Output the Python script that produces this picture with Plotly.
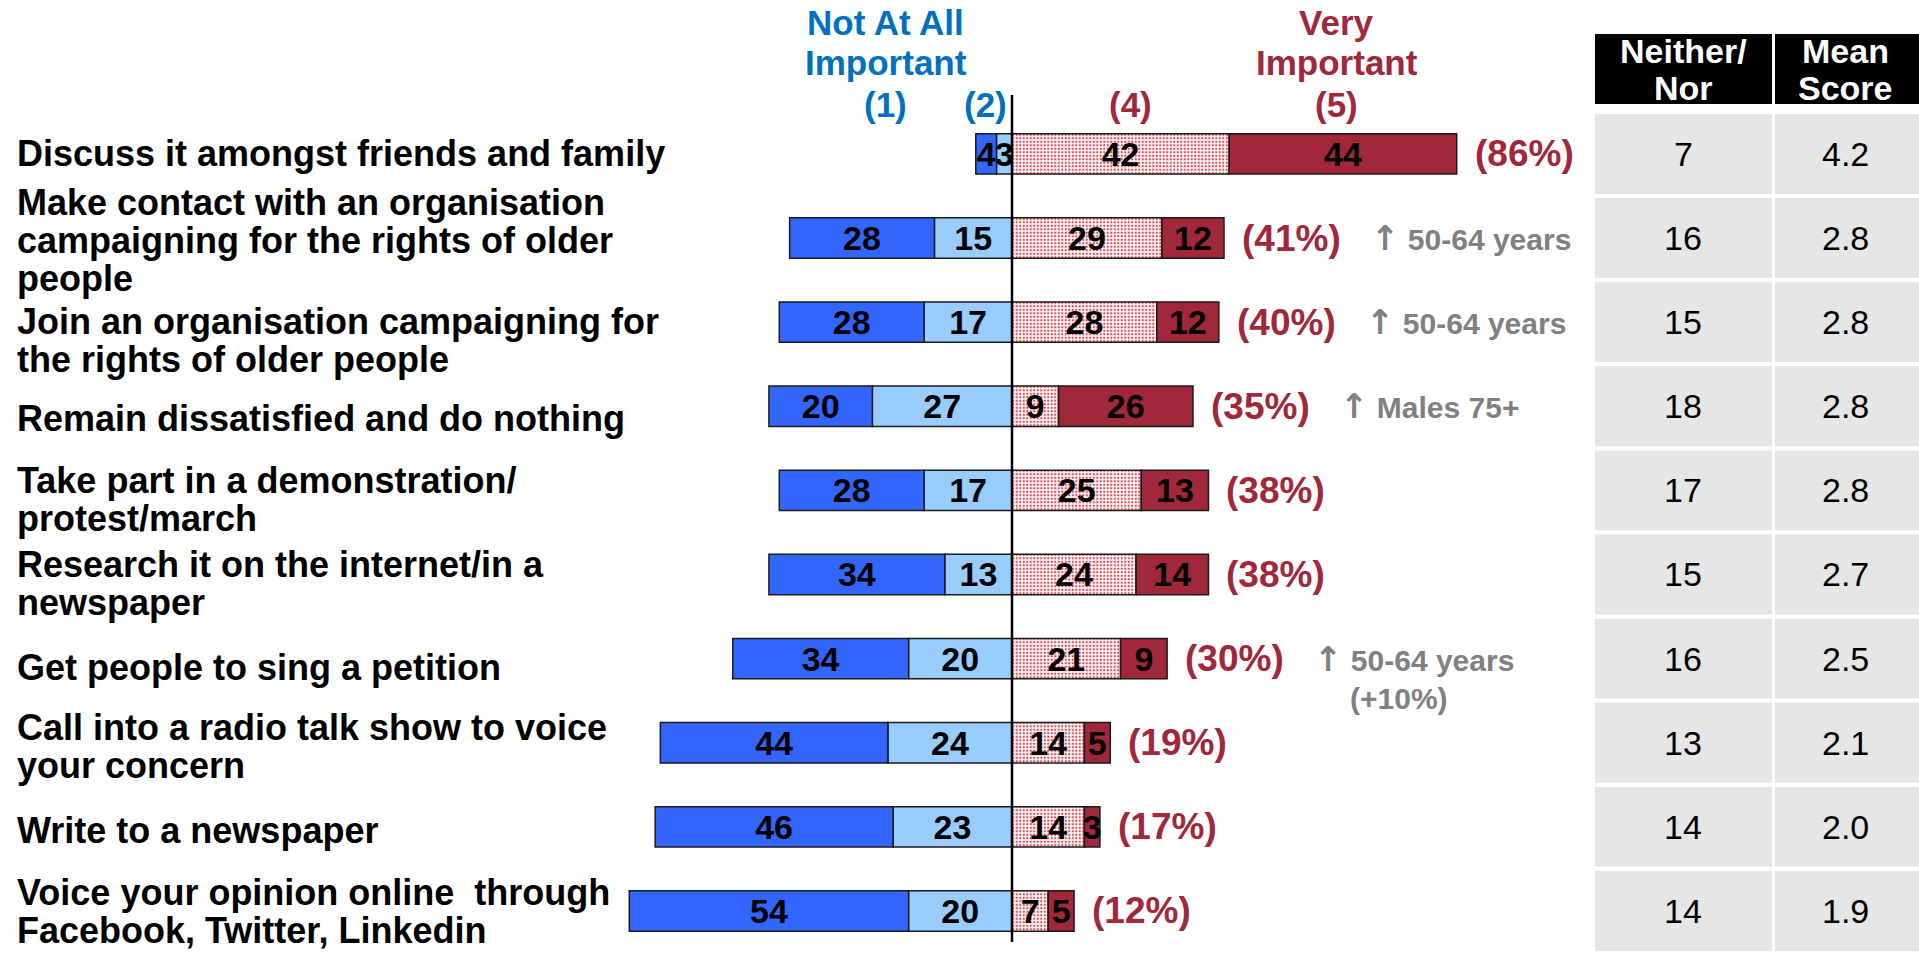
import plotly.graph_objects as go

# ---------------- data ----------------
categories = [
    "Discuss it amongst friends and family",
    "Make contact with an organisation<br>campaigning for the rights of older<br>people",
    "Join an organisation campaigning for<br>the rights of older people",
    "Remain dissatisfied and do nothing",
    "Take part in a demonstration/<br>protest/march",
    "Research it on the internet/in a<br>newspaper",
    "Get people to sing a petition",
    "Call into a radio talk show to voice<br>your concern",
    "Write to a newspaper",
    "Voice your opinion online  through<br>Facebook, Twitter, Linkedin",
]
not_at_all_1 = [4, 28, 28, 20, 28, 34, 34, 44, 46, 54]
not_imp_2 = [3, 15, 17, 27, 17, 13, 20, 24, 23, 20]
imp_4 = [42, 29, 28, 9, 25, 24, 21, 14, 14, 7]
very_5 = [44, 12, 12, 26, 13, 14, 9, 5, 3, 5]
neither_nor = [7, 16, 15, 18, 17, 15, 16, 13, 14, 14]
mean_score = ["4.2", "2.8", "2.8", "2.8", "2.8", "2.7", "2.5", "2.1", "2.0", "1.9"]
notes = ["", "↑ 50-64 years", "↑ 50-64 years", "↑ Males 75+", "", "",
         "↑ 50-64 years<br>(+10%)", "", "", ""]
table_headers = ["Neither/<br>Nor", "Mean<br>Score"]

# ---------------- style / layout constants ----------------
FONT = "Arial, 'Liberation Sans', sans-serif"
DARK_BLUE = "#3366FF"
LIGHT_BLUE = "#99CCFF"
DARK_RED = "#A0283A"
HEAD_BLUE = "#0070C0"
GREY = "#808080"
W, H = 1919, 953
X_RANGE = [-195.7, 175.4]
Y_RANGE = [9.5, -1.83]
ROW_PX = 84.1
LINE_SPACING = 38 / ROW_PX
label_shift_px = [0, 2, 18, 12, 9, 9, 9, 4, 4, 1]

ys = list(range(len(categories)))
BAR_W = 0.48
outline = dict(color="#1a1a1a", width=1.5)
txtfont = dict(family=FONT, size=34, color="black", weight="bold")


def bar(values, sign, marker, name):
    return go.Bar(y=ys, x=[sign * v for v in values], orientation="h", width=BAR_W,
                  marker=marker, text=[str(v) for v in values], textposition="inside",
                  insidetextanchor="middle", constraintext="none", textangle=0,
                  textfont=txtfont, hoverinfo="skip", name=name)


fig = go.Figure()
fig.add_trace(bar(not_imp_2, -1, dict(color=LIGHT_BLUE, line=outline), "(2)"))
fig.add_trace(bar(not_at_all_1, -1, dict(color=DARK_BLUE, line=outline), "(1)"))
fig.add_trace(bar(imp_4, 1, dict(color="#E06070", line=outline,
                                  pattern=dict(shape=".", bgcolor="#FDF0F0", fgcolor="#D24A5A",
                                               size=3.5, solidity=0.3, fillmode="replace")), "(4)"))
fig.add_trace(bar(very_5, 1, dict(color=DARK_RED, line=outline), "(5)"))

ann = []
# category labels (one annotation per line for tight spacing)
for i, lab in enumerate(categories):
    lines = lab.split("<br>")
    n = len(lines)
    for k, ln in enumerate(lines):
        yy = i + label_shift_px[i] / ROW_PX + (k - (n - 1) / 2) * LINE_SPACING
        ann.append(dict(x=15 / W, xref="paper", y=yy, yref="y", text=ln,
                        xanchor="left", yanchor="middle", showarrow=False,
                        font=dict(family=FONT, size=36, color="black", weight="bold")))

# net percentage labels and notes
for i in ys:
    net = imp_4[i] + very_5[i]
    ann.append(dict(x=net, y=i, xref="x", yref="y", text=f"({net}%)", xshift=16,
                    xanchor="left", yanchor="middle", showarrow=False,
                    font=dict(family=FONT, size=37, color=DARK_RED, weight="bold")))
    if notes[i]:
        lines = notes[i].split("<br>")
        for k, ln in enumerate(lines):
            txt = ln.replace("↑", "<span style='font-family:DejaVu Sans;font-size:34px'>↑</span>")
            ann.append(dict(x=net + 28, y=i + k * 40 / ROW_PX, xref="x", yref="y", text=txt,
                            xshift=0 if k == 0 else 36,
                            xanchor="left", yanchor="middle", showarrow=False,
                            font=dict(family=FONT, size=30, color=GREY, weight="bold")))


# column headers above bars
def head(x, y, text, color):
    ann.append(dict(x=x, xref="x", y=1 - y / H, yref="paper", text=text, showarrow=False,
                    xanchor="center", yanchor="middle",
                    font=dict(family=FONT, size=35, color=color, weight="bold")))


head(-24.4, 22, "Not At All", HEAD_BLUE)
head(-24.4, 62, "Important", HEAD_BLUE)
head(-24.4, 104, "(1)", HEAD_BLUE)
head(-5.2, 104, "(2)", HEAD_BLUE)
head(23.0, 104, "(4)", DARK_RED)
head(62.8, 22, "Very", DARK_RED)
head(62.8, 62, "Important", DARK_RED)
head(62.8, 104, "(5)", DARK_RED)

shapes = []
# zero line
shapes.append(dict(type="line", xref="x", yref="y", x0=0, x1=0, y0=-0.70, y1=9.37,
                   line=dict(color="black", width=2.5)))

# table
cols = [(1595, 1772, 1683), (1775, 1919, 1845)]
for c, (x0, x1, xc) in enumerate(cols):
    shapes.append(dict(type="rect", xref="paper", yref="paper", x0=x0 / W, x1=x1 / W,
                       y0=1 - 104 / H, y1=1 - 34 / H, fillcolor="black", line=dict(width=0),
                       layer="below"))
    hl = table_headers[c].split("<br>")
    for k, ln in enumerate(hl):
        ann.append(dict(x=xc / W, xref="paper", y=1 - (51 + 37 * k) / H, yref="paper",
                        text=ln, showarrow=False, xanchor="center", yanchor="middle",
                        font=dict(family=FONT, size=34, color="white", weight="bold")))
    vals = neither_nor if c == 0 else mean_score
    for i in ys:
        shapes.append(dict(type="rect", xref="paper", yref="y", x0=x0 / W, x1=x1 / W,
                           y0=i - 0.475, y1=i + 0.475, fillcolor="#E6E6E6",
                           line=dict(width=0), layer="below"))
        ann.append(dict(x=xc / W, xref="paper", y=i, yref="y", text=str(vals[i]),
                        showarrow=False, xanchor="center", yanchor="middle",
                        font=dict(family=FONT, size=34, color="black")))

fig.update_layout(
    width=W, height=H, margin=dict(l=0, r=0, t=0, b=0, pad=0),
    barmode="relative", showlegend=False,
    paper_bgcolor="white", plot_bgcolor="white",
    xaxis=dict(range=X_RANGE, visible=False, fixedrange=True),
    yaxis=dict(range=Y_RANGE, visible=False, fixedrange=True),
    annotations=ann, shapes=shapes,
)

fig.write_html("out.html", config={"displayModeBar": False},
               post_script="document.body.style.margin='0';document.body.style.overflow='hidden';")
